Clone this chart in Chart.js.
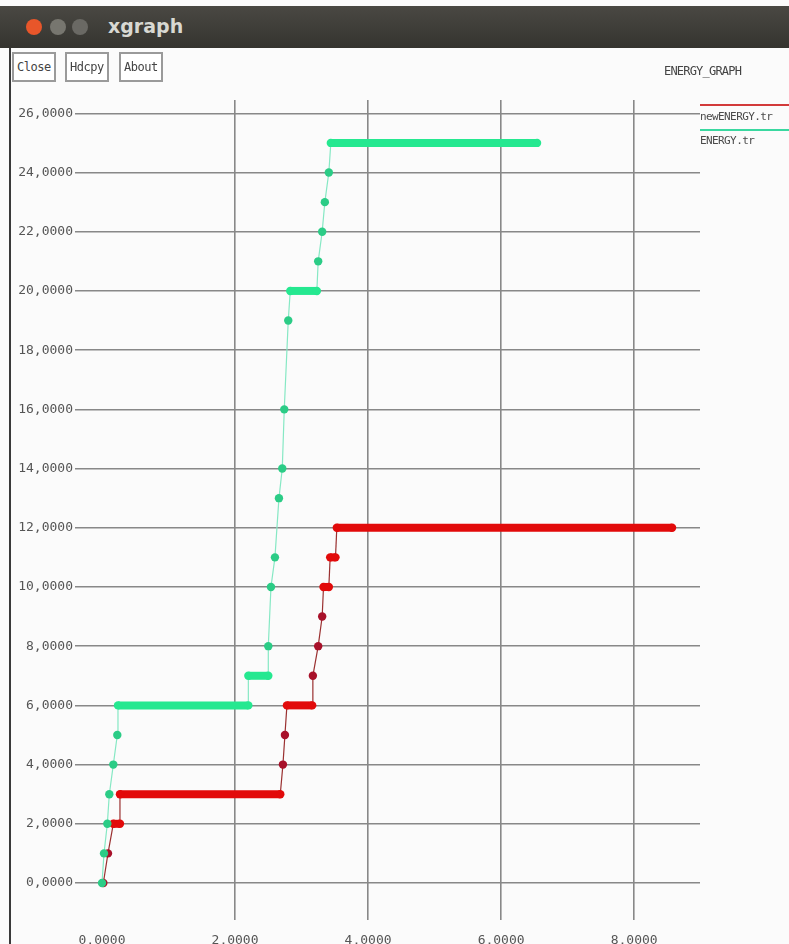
<!DOCTYPE html>
<html>
<head>
<meta charset="utf-8">
<script src="https://cdn.jsdelivr.net/npm/chart.js@4/dist/chart.umd.min.js"></script>
<style>
  html, body { margin: 0; padding: 0; background: #fafafa; }
  #wrap { position: relative; width: 789px; height: 944px; overflow: hidden; background: #fbfbfb; }
  #chart { position: absolute; left: 0; top: 0; }
  .titlebar { position: absolute; left: 0; top: 6px; width: 789px; height: 42px;
    background: linear-gradient(#4a4843, #35342f); }
  .dot { position: absolute; top: 13px; width: 16px; height: 16px; border-radius: 50%; }
  .title { position: absolute; left: 108px; top: 9px; color: #d8d8d2; font: bold 19px "DejaVu Sans", sans-serif; }
  .edge { position: absolute; left: 9px; top: 48px; width: 2px; height: 896px; background: #3a3a3a; }
  .btn { position: absolute; top: 52px; height: 26px; border: 2px solid #9a9a9a; background: #fff;
    font: 12px "DejaVu Sans Mono", monospace; color: #444; line-height: 26px; padding: 0 3px; letter-spacing: -0.5px; }
  .gtitle { position: absolute; left: 664px; top: 64px; font: 12px "DejaVu Sans Mono", monospace; color: #444; letter-spacing: -0.8px; }
  .leg { position: absolute; left: 700px; font: 11px "DejaVu Sans Mono", monospace; color: #4a4a4a; letter-spacing: -0.6px; white-space: nowrap; }
  .legline { position: absolute; left: 700px; width: 89px; height: 2px; }
</style>
</head>
<body>
<div id="wrap">
  <canvas id="chart" width="789" height="944"></canvas>
  <div class="titlebar">
    <div class="dot" style="left:26px;background:#e8562a"></div>
    <div class="dot" style="left:50px;background:#77766f"></div>
    <div class="dot" style="left:72px;background:#6a6964"></div>
    <div class="title">xgraph</div>
  </div>
  <div class="edge"></div>
  <div class="btn" style="left:12px">Close</div>
  <div class="btn" style="left:65px">Hdcpy</div>
  <div class="btn" style="left:119px">About</div>
  <div class="gtitle">ENERGY_GRAPH</div>
  <div class="legline" style="top:104px;background:#d23a3a"></div>
  <div class="leg" style="top:110px">newENERGY.tr</div>
  <div class="legline" style="top:129px;background:#3ad8a0"></div>
  <div class="leg" style="top:134px">ENERGY.tr</div>
</div>
<script>
// values; a repeated y marks a flat run
const ENERGY_X = [0.00, 0.03, 0.08, 0.11, 0.17, 0.23, 0.24, 2.20, 2.20, 2.50, 2.50, 2.54, 2.60, 2.66, 2.71, 2.74, 2.80, 2.83, 3.23, 3.25, 3.31, 3.35, 3.41, 3.44, 6.54];
const ENERGY_Y = [0, 1, 2, 3, 4, 5, 6, 6, 7, 7, 8, 10, 11, 13, 14, 16, 19, 20, 20, 21, 22, 23, 24, 25, 25];

const NEW_ENERGY_X = [0.02, 0.09, 0.17, 0.27, 0.27, 2.68, 2.72, 2.75, 2.78, 3.16, 3.17, 3.25, 3.31, 3.33, 3.41, 3.43, 3.51, 3.53, 8.57];
const NEW_ENERGY_Y = [0, 1, 2, 2, 3, 3, 4, 5, 6, 6, 7, 8, 9, 10, 10, 11, 11, 12, 12];

const X_TICKS = [0, 2, 4, 6, 8];
const Y_TICKS = [0, 2, 4, 6, 8, 10, 12, 14, 16, 18, 20, 22, 24, 26];

const COLORS = {
  greenFlat: '#25e890', greenDot: '#2bcc86', greenLine: '#86e8c4',
  redFlat: '#e20a0a', redDot: '#a8112a', redLine: '#9a3030',
  grid: '#888888', text: '#555555',
};

const fmtTick = v => v.toFixed(4).replace('.', ',');

function toPoints(xs, ys) {
  return xs.map((x, i) => ({ x, y: ys[i] }));
}

function onFlat(ys, i) {
  return ys[i] === ys[i - 1] || ys[i] === ys[i + 1];
}

function makeDataset(label, xs, ys, flat, dot, line) {
  return {
    label,
    data: toPoints(xs, ys),
    showLine: true,
    borderColor: line,
    borderWidth: 1.2,
    pointRadius: 4.2,
    pointBorderWidth: 0,
    pointBackgroundColor: ys.map((_, i) => onFlat(ys, i) ? flat : dot),
    segment: {
      borderWidth: ctx => ctx.p0.parsed.y === ctx.p1.parsed.y ? 8 : 1.2,
      borderColor: ctx => ctx.p0.parsed.y === ctx.p1.parsed.y ? flat : line,
    },
    tension: 0,
  };
}

const tickFont = { family: '"DejaVu Sans Mono", monospace', size: 13 };

new Chart(document.getElementById('chart').getContext('2d'), {
  type: 'scatter',
  data: {
    datasets: [
      makeDataset('ENERGY.tr', ENERGY_X, ENERGY_Y, COLORS.greenFlat, COLORS.greenDot, COLORS.greenLine),
      makeDataset('newENERGY.tr', NEW_ENERGY_X, NEW_ENERGY_Y, COLORS.redFlat, COLORS.redDot, COLORS.redLine),
    ],
  },
  options: {
    responsive: false, animation: false, devicePixelRatio: 1,
    layout: { padding: { left: 10, right: 89, top: 100, bottom: 0 } },
    plugins: { legend: { display: false }, tooltip: { enabled: false } },
    scales: {
      x: {
        type: 'linear', min: -0.406, max: 8.99,
        afterBuildTicks: s => { s.ticks = X_TICKS.map(value => ({ value })); },
        afterFit: s => { s.height = 24; },
        border: { display: false },
        grid: { color: ctx => ctx.tick && ctx.tick.value === 0 ? 'rgba(0,0,0,0)' : COLORS.grid, lineWidth: 1.6, tickLength: 0 },
        ticks: { color: COLORS.text, font: tickFont, padding: 13, maxRotation: 0, callback: fmtTick },
      },
      y: {
        type: 'linear', min: -1.25, max: 26.45,
        afterBuildTicks: s => { s.ticks = Y_TICKS.map(value => ({ value })); },
        afterFit: s => { s.width = 65; },
        border: { display: false },
        grid: { color: COLORS.grid, lineWidth: 1.6, tickLength: 0 },
        ticks: { color: COLORS.text, font: tickFont, padding: 2, callback: fmtTick },
      },
    },
  },
});
</script>
</body>
</html>
